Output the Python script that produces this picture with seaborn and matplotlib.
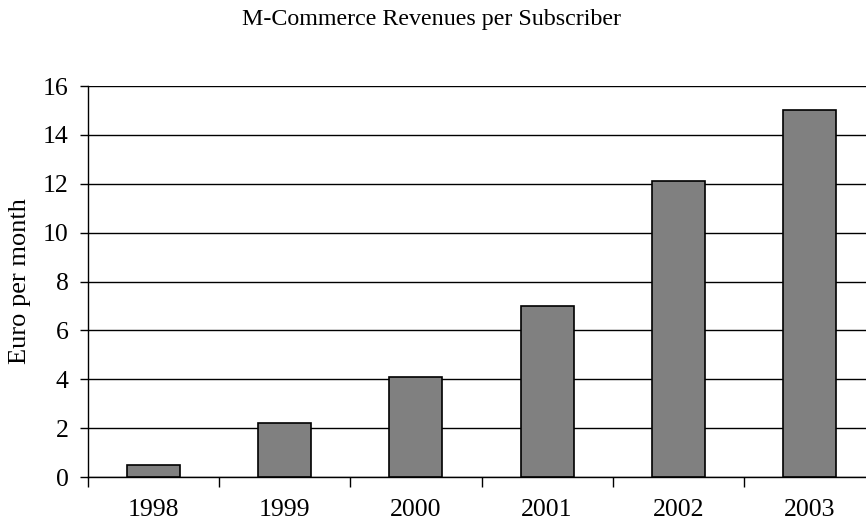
import matplotlib
matplotlib.use("Agg")
import matplotlib.pyplot as plt
import seaborn as sns
import pandas as pd
import numpy as np

years = ["1998", "1999", "2000", "2001", "2002", "2003"]
revenues = [0.5, 2.2, 4.1, 7.0, 12.1, 15.0]
yticks = [0, 2, 4, 6, 8, 10, 12, 14, 16]
title = "M-Commerce Revenues per Subscriber"
ylabel = "Euro per month"

sns.set_theme(style="white")
plt.rcParams["font.family"] = ["Liberation Serif", "DejaVu Serif"]

fig = plt.figure(figsize=(8.66, 5.22), dpi=100)
ax = fig.add_axes([88.2 / 866, 45 / 522, 786.6 / 866, 391 / 522])

df = pd.DataFrame({"year": years, "rev": revenues})
sns.barplot(data=df, x="year", y="rev", color="#808080", saturation=1,
            edgecolor="black", linewidth=1.2, width=0.405, ax=ax, zorder=3)

ax.set_ylim(0, 16)
ax.set_xlim(-0.5, 5.5)
ax.set_yticks(yticks)
ax.set_yticklabels([str(v) for v in yticks], fontsize=18.5, color="black")
ax.yaxis.grid(True, color="black", linewidth=1)
ax.set_axisbelow(True)

ax.set_xticks(range(len(years)))
ax.set_xticklabels(years, fontsize=18.5, color="black")
ax.set_xticks(np.arange(-0.5, len(years), 1.0), minor=True)
ax.tick_params(axis="x", which="major", length=0, pad=16)
ax.tick_params(axis="x", which="minor", length=7, width=1, color="black", direction="out", bottom=True)
ax.tick_params(axis="y", which="major", length=6, width=1, color="black", direction="out", left=True, pad=8)

for s in ["top", "right"]:
    ax.spines[s].set_visible(False)
for s in ["left", "bottom"]:
    ax.spines[s].set_color("black")
    ax.spines[s].set_linewidth(1)

ax.set_xlabel("")
ax.set_ylabel(ylabel, fontsize=19, color="black")
ax.yaxis.set_label_coords((31 - 88.2) / 786.6, 0.5)
fig.text(432 / 866, 1 - 19 / 522, title, ha="center", va="center", fontsize=17.3, color="black")

fig.savefig("out.png", dpi=100, facecolor="white")
